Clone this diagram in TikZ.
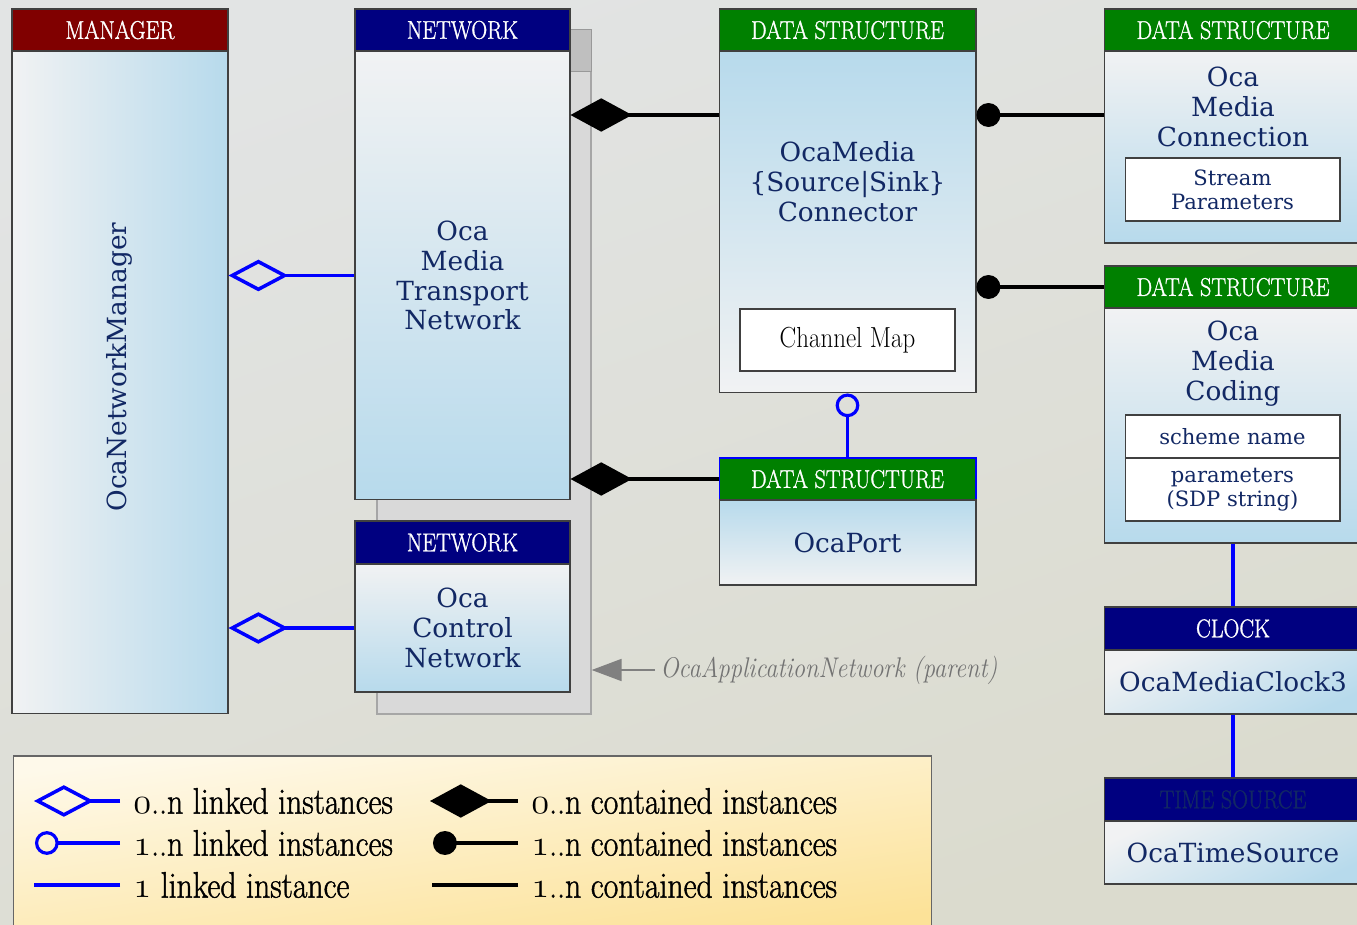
\documentclass[tikz,border=0pt]{standalone}
\usepackage{fontspec}
\usetikzlibrary{arrows.meta}
\newfontfamily\bodyfont{DejaVu Serif}
\newfontfamily\headfont{Latin Modern Roman}[FakeStretch=0.86, FakeBold=1.2]
\newfontfamily\notefont{Latin Modern Roman}[FakeStretch=0.86]
\definecolor{mgrred}{RGB}{128,0,0}
\definecolor{netblue}{RGB}{0,0,128}
\definecolor{dsgreen}{RGB}{0,128,0}
\definecolor{navytext}{RGB}{18,40,100}
\definecolor{palegray}{RGB}{241,242,243}
\definecolor{paleblue}{RGB}{183,218,236}
\definecolor{bgtop}{RGB}{226,228,228}
\definecolor{bgmid}{RGB}{237,237,235}
\definecolor{bgbot}{RGB}{219,219,206}
\definecolor{legtop}{RGB}{254,249,234}
\definecolor{legmid}{RGB}{253,238,196}
\definecolor{legbot}{RGB}{252,226,152}

\begin{document}
\begin{tikzpicture}[x=0.02cm, y=-0.02cm]
  \tikzstyle{every node}+=[inner sep=0pt]
  \tikzstyle{hdr}=[rectangle, draw=black!75, line width=0.6pt, text=white, minimum height=0.84cm,
                   font=\headfont\fontsize{14.6}{16}\selectfont]
  \tikzstyle{bodybox}=[rectangle, draw=black!75, line width=0.6pt, text=navytext, align=center,
                   font=\bodyfont\fontsize{15}{17}\selectfont]
  \tikzstyle{clsname}=[text=navytext, align=center, font=\bodyfont\fontsize{15}{17}\selectfont]
  \tikzstyle{fieldbox}=[rectangle, draw=black!75, line width=0.6pt, fill=white, text=navytext, align=center,
                   minimum width=4.3cm, font=\bodyfont\fontsize{12}{13.6}\selectfont]
  \tikzstyle{fadedown}=[top color=palegray, bottom color=paleblue]
  \tikzstyle{fadeup}=[top color=paleblue, bottom color=palegray]
  \tikzstyle{faderight}=[left color=palegray, right color=paleblue]
  \tikzstyle{fadediag}=[top color=palegray, bottom color=paleblue, shading angle=25]
  \tikzstyle{legtext}=[anchor=west, inner xsep=0.26cm, font=\headfont\fontsize{21}{22}\selectfont]
  \tikzstyle{linkmany}=[draw=blue, line width=2pt, -{Diamond[open, length=34pt, width=18pt]}]
  \tikzstyle{containmany}=[draw=black, line width=2pt, -{Diamond[length=35pt, width=19pt]}]
  \tikzstyle{linksome}=[draw=blue, line width=1.8pt, -{Circle[open, length=13.5pt]}]
  \tikzstyle{containsome}=[draw=black, line width=2pt, -{Circle[length=13.6pt]}]
  \tikzstyle{linkone}=[draw=blue, line width=2pt]
  \tikzstyle{containone}=[draw=black, line width=2pt]
  \tikzstyle{parentarrow}=[draw=black!50, line width=1pt, -{Triangle[length=17pt, width=12.5pt]}]

  \useasboundingbox (0,0) rectangle (1357,925);
  \fill[top color=bgtop, middle color=bgmid, bottom color=bgbot, shading angle=20] (0,0) rectangle (1357,925);

  % application network (parent)
  \node[draw=black!35, line width=0.8pt, fill=black!15, minimum width=4.28cm, minimum height=13.68cm] (appnet) at (484,372) {};
  \draw[draw=black!40, line width=0.8pt, fill=black!25] (appnet.north east) rectangle ++(-22,42);

  % manager
  \node[hdr, fill=mgrred, minimum width=4.32cm] (mgrhead) at (120,30) {MANAGER};
  \node[bodybox, faderight, minimum width=4.32cm, minimum height=13.26cm] (manager) at (120,382.5) {};
  \node[clsname, rotate=90] (mgrname) at (119,367) {OcaNetworkManager};

  % networks
  \node[hdr, fill=netblue, minimum width=4.3cm] (tnethead) at (462.5,30) {NETWORK};
  \node[bodybox, fadedown, minimum width=4.3cm, minimum height=8.98cm] (tnet) at (462.5,275.5) {Oca\\Media\\Transport\\Network};
  \node[hdr, fill=netblue, minimum width=4.3cm, minimum height=0.86cm] (cnethead) at (462.5,542.5) {NETWORK};
  \node[bodybox, fadedown, minimum width=4.3cm, minimum height=2.56cm] (cnet) at (462.5,628) {Oca\\Control\\Network};

  % connector
  \node[hdr, fill=dsgreen, minimum width=5.14cm] (conhead) at (847.5,30) {DATA STRUCTURE};
  \node[bodybox, fadeup, minimum width=5.14cm, minimum height=6.84cm] (connector) at (847.5,222) {};
  \node[clsname] (conname) at (847.5,182) {OcaMedia\\\{Source|Sink\}\\Connector};
  \node[fieldbox, text=black, minimum height=1.24cm, font=\notefont\fontsize{16.5}{18}\selectfont] (chanmap) at (847.5,340) {Channel Map};

  % port
  \node[hdr, fill=dsgreen, draw=blue, minimum width=5.14cm] (porthead) at (847.5,479) {DATA STRUCTURE};
  \node[bodybox, fadeup, minimum width=5.14cm, minimum height=1.7cm] (port) at (847.5,542.5) {OcaPort};

  % media connection
  \node[hdr, fill=dsgreen, minimum width=5.16cm] (mconhead) at (1233,30) {DATA STRUCTURE};
  \node[bodybox, fadedown, minimum width=5.16cm, minimum height=3.84cm] (mcon) at (1233,147) {};
  \node[clsname] (mconname) at (1233,107) {Oca\\Media\\Connection};
  \node[fieldbox, minimum height=1.26cm] (streamparams) at (1232.5,189.5) {Stream\\Parameters};

  % media coding
  \node[hdr, fill=dsgreen, minimum width=5.16cm] (codhead) at (1233,287) {DATA STRUCTURE};
  \node[bodybox, fadedown, minimum width=5.16cm, minimum height=4.7cm] (coding) at (1233,425.5) {};
  \node[clsname] (codname) at (1233,363.5) {Oca\\Media\\Coding};
  \node[fieldbox, minimum height=0.86cm] (scheme) at (1232.5,436.5) {scheme name};
  \node[fieldbox, minimum height=1.26cm] (sdpparams) at (1232.5,489.5) {parameters\\(SDP string)};

  % clock and time source
  \node[hdr, fill=netblue, minimum width=5.16cm, minimum height=0.86cm] (clkhead) at (1233,628.5) {CLOCK};
  \node[bodybox, fadediag, minimum width=5.16cm, minimum height=1.28cm] (clock) at (1233,682) {OcaMediaClock3};
  \node[hdr, fill=netblue, text=navytext, minimum width=5.16cm, minimum height=0.86cm] (tsrchead) at (1233,799.5) {TIME SOURCE};
  \node[bodybox, fadediag, minimum width=5.16cm, minimum height=1.26cm] (timesource) at (1233,852.5) {OcaTimeSource};

  % connectors
  \coordinate (rowA) at (0,115);
  \draw[linkmany] (tnet.west) -- (manager.east |- tnet.west);
  \draw[linkmany] (cnet.west) -- (manager.east |- cnet.west);
  \draw[containmany] (connector.west |- rowA) -- (tnet.east |- rowA);
  \draw[containmany] (porthead.west) -- (tnet.east |- porthead.west);
  \draw[containsome] (mcon.west |- rowA) -- (connector.east |- rowA);
  \draw[containsome] (codhead.west) -- (connector.east |- codhead.west);
  \draw[linksome] (porthead.north) -- (connector.south);
  \draw[linkone] (coding.south) -- (clkhead.north);
  \draw[linkone] (clock.south) -- (tsrchead.north);

  \node[anchor=west, inner xsep=0.1cm, text=black!55, font=\notefont\itshape\fontsize{16.2}{18}\selectfont] (applabel) at (655,670) {OcaApplicationNetwork (parent)};
  \draw[parentarrow] (applabel.west) -- (appnet.east |- applabel.west);

  % legend
  \node[draw=black!60, line width=0.6pt, top color=legtop, middle color=legmid, bottom color=legbot, shading angle=8,
        minimum width=18.38cm, minimum height=3.48cm] (legend) at (472.5,843) {};
  \node[legtext] (lkmany) at (120,801) {\legacyoldstylenums{0}..n linked instances};
  \node[legtext] (lksome) at (120,843) {\legacyoldstylenums{1}..n linked instances};
  \node[legtext] (lkone) at (120,885) {\legacyoldstylenums{1} linked instance};
  \node[legtext] (ctmany) at (518,801) {\legacyoldstylenums{0}..n contained instances};
  \node[legtext] (ctsome) at (518,843) {\legacyoldstylenums{1}..n contained instances};
  \node[legtext] (ctone) at (518,885) {\legacyoldstylenums{1}..n contained instances};
  \coordinate (lkmanyend) at (34,801);
  \coordinate (lksomeend) at (35,843);
  \coordinate (lkoneend) at (34,885);
  \coordinate (ctmanyend) at (430,801);
  \coordinate (ctsomeend) at (433,843);
  \coordinate (ctoneend) at (432,885);
  \draw[linkmany] (lkmany.west) -- (lkmanyend);
  \draw[linksome] (lksome.west) -- (lksomeend);
  \draw[linkone] (lkone.west) -- (lkoneend);
  \draw[containmany] (ctmany.west) -- (ctmanyend);
  \draw[containsome] (ctsome.west) -- (ctsomeend);
  \draw[containone] (ctone.west) -- (ctoneend);
\end{tikzpicture}
\end{document}
